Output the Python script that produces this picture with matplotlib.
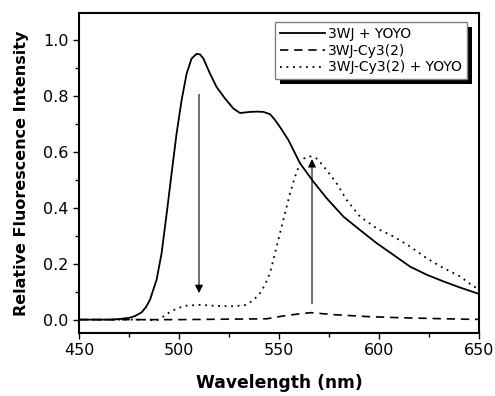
import matplotlib
matplotlib.use("Agg")
import matplotlib.pyplot as plt
from matplotlib.patches import Rectangle
from matplotlib.ticker import MultipleLocator

plt.rcParams['font.family'] = ['DejaVu Sans']

# 3WJ + YOYO
wl_a = [450, 465, 470, 475.5, 478, 481.3, 483.5, 485.5, 488.8, 491.3, 493.8, 496.3,
        498.8, 501.3, 503.8, 506.3, 508.8, 510.5, 512.2, 515.5, 518.8, 523, 527.2,
        530.5, 533, 535.5, 539, 542.2, 545.5, 548, 550.5, 554.7, 560.5, 567.2, 573.8,
        582.2, 590.5, 598.8, 607.2, 615.5, 623.8, 632.2, 640.5, 648.8, 650]
int_a = [0.0, 0.0, 0.002, 0.007, 0.013, 0.026, 0.045, 0.071, 0.143, 0.238, 0.378, 0.524,
         0.667, 0.786, 0.881, 0.935, 0.952, 0.95, 0.935, 0.881, 0.833, 0.792, 0.756,
         0.740, 0.742, 0.744, 0.745, 0.744, 0.736, 0.715, 0.69, 0.643, 0.56, 0.494, 0.435,
         0.369, 0.321, 0.274, 0.232, 0.19, 0.161, 0.137, 0.115, 0.095, 0.092]

# 3WJ-Cy3(2)
wl_b = [450, 500, 543.8, 552, 560.5, 566, 577, 594, 610, 627, 647, 650]
int_b = [0.0, 0.0, 0.003, 0.013, 0.021, 0.025, 0.018, 0.011, 0.007, 0.004, 0.001, 0.001]

# 3WJ-Cy3(2) + YOYO
wl_c = [450, 484, 486.5, 488.8, 491, 493.8, 498.8, 503.8, 510.5, 518.8, 527, 533, 537,
        540.5, 543, 545.5, 548, 550.5, 553, 555.5, 558, 560.5, 562.5, 564.7, 566.8,
        568.8, 571, 573.8, 578.8, 583.8, 590.5, 598.8, 607.2, 615.5, 623.8, 632.2,
        640.5, 647.2, 650]
int_c = [0.0, 0.0, -0.002, -0.003, 0.005, 0.02, 0.04, 0.05, 0.053, 0.049, 0.048, 0.052, 0.068,
         0.095, 0.125, 0.167, 0.238, 0.31, 0.381, 0.452, 0.512, 0.56, 0.577, 0.585, 0.584,
         0.577, 0.56, 0.536, 0.488, 0.429, 0.369, 0.327, 0.298, 0.262, 0.22, 0.185,
         0.155, 0.119, 0.11]

labels = ['3WJ + YOYO', '3WJ-Cy3(2)', '3WJ-Cy3(2) + YOYO']

fig = plt.figure(figsize=(4.95, 3.96), dpi=100)
ax = fig.add_axes([0.1596, 0.159, 0.8081, 0.808])

ax.plot(wl_a, int_a, color='black', lw=1.3, label=labels[0])
ax.plot(wl_b, int_b, color='black', lw=1.2, dashes=(5, 3.5), label=labels[1])
ax.plot(wl_c, int_c, color='black', lw=1.3, dashes=(1, 2.6), label=labels[2])

# arrows
ax.annotate('', xy=(510, 0.095), xytext=(510, 0.807),
            arrowprops=dict(arrowstyle='-|>', color='black', lw=0.8,
                            mutation_scale=12, shrinkA=0, shrinkB=0))
ax.annotate('', xy=(566.5, 0.575), xytext=(566.5, 0.057),
            arrowprops=dict(arrowstyle='-|>', color='black', lw=0.8,
                            mutation_scale=12, shrinkA=0, shrinkB=0))

ax.set_xlim(450, 650)
ax.set_ylim(-0.048, 1.098)
ax.xaxis.set_major_locator(MultipleLocator(50))
ax.xaxis.set_minor_locator(MultipleLocator(25))
ax.yaxis.set_major_locator(MultipleLocator(0.2))
ax.yaxis.set_minor_locator(MultipleLocator(0.1))
ax.yaxis.set_major_formatter(plt.FormatStrFormatter('%.1f'))
ax.tick_params(which='both', direction='out', labelsize=11.5, width=1)
ax.tick_params(which='major', length=4)
ax.tick_params(which='minor', length=3)
for s in ax.spines.values():
    s.set_linewidth(1.5)

ax.set_xlabel('Wavelength (nm)', fontsize=12.3, fontweight='bold', labelpad=11)
ax.set_ylabel('Relative Fluorescence Intensity', fontsize=11.5, fontweight='bold', labelpad=10)

leg = ax.legend(loc='upper right', bbox_to_anchor=(0.97, 0.972), borderaxespad=0,
                fontsize=10, fancybox=False, framealpha=1, edgecolor='#808080',
                handlelength=3.3, handletextpad=0.2, labelspacing=0.2,
                borderpad=0.35)
leg.get_frame().set_linewidth(1.0)
leg.set_zorder(5)

# offset black shadow behind the legend box
fig.canvas.draw()
bb = leg.get_window_extent()
inv = fig.transFigure.inverted()
(x0, y0) = inv.transform((bb.x0 + 5, bb.y0 - 5))
(x1, y1) = inv.transform((bb.x1 + 5, bb.y1 - 5))
ax.add_patch(Rectangle((x0, y0), x1 - x0, y1 - y0, transform=fig.transFigure,
                       facecolor='black', edgecolor='none', zorder=4, clip_on=False))

fig.savefig('out.png', dpi=100)
